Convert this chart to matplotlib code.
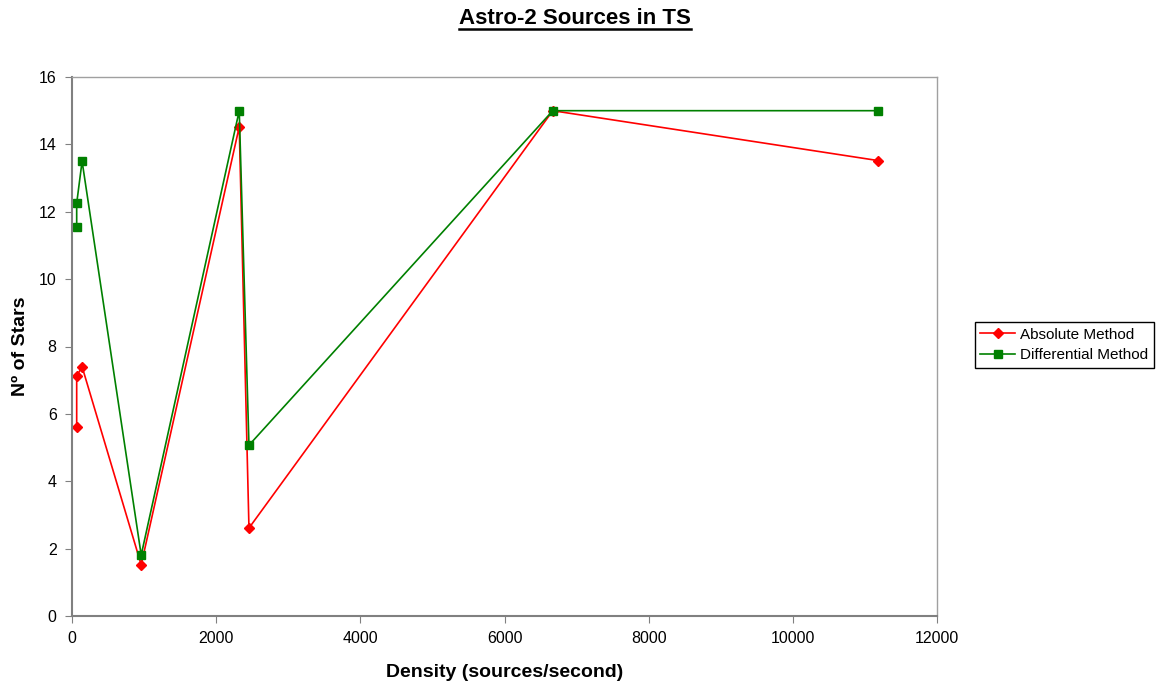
import matplotlib
matplotlib.use("Agg")
import matplotlib.pyplot as plt
from matplotlib.lines import Line2D

plt.rcParams['font.family'] = ['Liberation Sans', 'DejaVu Sans']

# density (sources/second) and number of stars
density = [65, 65, 140, 960, 2320, 2455, 6670, 11180]
absolute_stars = [5.62, 7.12, 7.40, 1.52, 14.52, 2.61, 15.0, 13.52]
differential_stars = [11.56, 12.25, 13.50, 1.81, 15.0, 5.07, 15.0, 15.0]

fig = plt.figure(figsize=(11.6, 6.86), dpi=100, facecolor='white')
ax = fig.add_axes([72/1160, 70/686, (937-72)/1160, (616-77)/686])

ax.plot(density, absolute_stars, color='#ff0000', marker='D', markersize=5.5,
        linewidth=1.2, label='Absolute Method')
ax.plot(density, differential_stars, color='#008000', marker='s', markersize=6,
        linewidth=1.2, label='Differential Method')

ax.set_xlim(0, 12000)
ax.set_ylim(0, 16)
ax.set_xticks(range(0, 12001, 2000))
ax.set_yticks(range(0, 17, 2))
ax.tick_params(direction='out', length=5, color='#808080', labelsize=11.5, pad=6)
for s in ['left', 'bottom']:
    ax.spines[s].set_color('#808080')
    ax.spines[s].set_linewidth(1.5)
for s in ['top', 'right']:
    ax.spines[s].set_color('#a0a0a0')
    ax.spines[s].set_linewidth(1.0)

ax.set_xlabel('Density (sources/second)', fontsize=14, fontweight='bold', labelpad=13)
ax.set_ylabel('Nº of Stars', fontsize=14, fontweight='bold')
ax.yaxis.set_label_coords((21 - 72) / 865, 0.5)
ax.yaxis.label.set_va('center')

title = fig.text(575/1160, 1 - 19/686, 'Astro-2 Sources in TS', fontsize=16,
                 fontweight='bold', ha='center', va='center')

fig.legend(loc='center left', bbox_to_anchor=(975/1160, 1 - 345/686), fontsize=11,
           frameon=True, fancybox=False, edgecolor='black', framealpha=1,
           handlelength=2.3, borderpad=0.35, labelspacing=0.45, handletextpad=0.3,
           borderaxespad=0)

# underline the title
fig.canvas.draw()
bb = title.get_window_extent()
y_line = bb.y0 + 1
fig.add_artist(Line2D([bb.x0, bb.x1], [y_line, y_line], transform=None,
                      color='black', linewidth=1.8))

fig.savefig('out.png', dpi=100, facecolor='white')
